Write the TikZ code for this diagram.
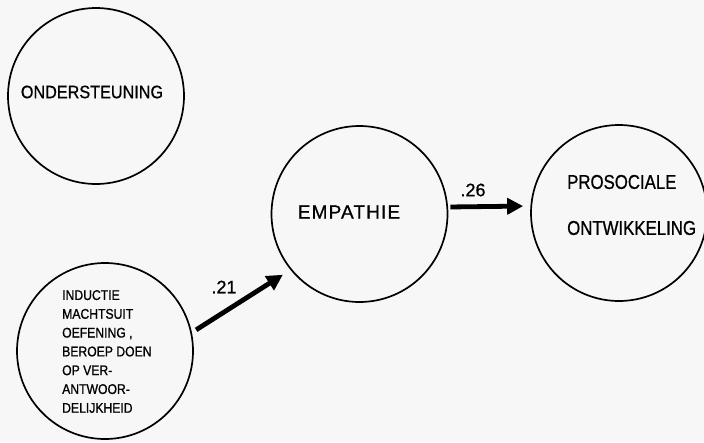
\documentclass[tikz,border=0pt]{standalone}
\usepackage{fontspec}
\setmainfont{Liberation Sans}[FakeBold=0.8]
\newfontfamily\condA[FakeStretch=0.9,FakeBold=0.8]{Liberation Sans}
\newfontfamily\condB[FakeStretch=0.84,FakeBold=0.8]{Liberation Sans}
\newfontfamily\condC[FakeStretch=0.87,FakeBold=1]{Liberation Sans}
\newfontfamily\spacedfont[LetterSpace=6,FakeBold=0.8]{Liberation Sans}
\usetikzlibrary{arrows.meta}
\begin{document}
\begin{tikzpicture}[x=1pt,y=-1pt,
  circ/.style={circle,draw,line width=1.7pt,minimum size=176pt,inner sep=0pt},
  arr/.style={line width=4.8pt,-{Triangle[length=16pt,width=16pt]}},
  txt/.style={inner sep=0pt},
  lab/.style={inner sep=0pt,font=\fontsize{18}{18}\selectfont},
]
\fill[black!3] (0,0) rectangle (704,442);
\useasboundingbox (0,0) rectangle (704,442);
% circles
\node[circ] (ond) at (96,96) {};
\node[circ] (ind) at (105,351) {};
\node[circ] (emp) at (359.5,214) {};
\node[circ] (pro) at (619,213) {};
% texts
\node[txt,font=\condA\fontsize{18}{18}\selectfont] (ondt) at (92,92) {ONDERSTEUNING};
\node[txt,anchor=west,align=left,font=\condC\fontsize{14}{18.8}\selectfont] (indt) at (62,351.5)
  {INDUCTIE\\MACHTSUIT\\OEFENING ,\\BEROEP DOEN\\OP VER-\\ANTWOOR-\\DELIJKHEID};
\node[txt,font=\spacedfont\fontsize{19}{19}\selectfont] (empt) at (349,212) {EMPATHIE};
\node[txt,anchor=west,font=\condB\fontsize{20}{20}\selectfont] (prot1) at (567,182) {PROSOCIALE};
\node[txt,anchor=west,font=\condB\fontsize{20}{20}\selectfont] (prot2) at (567,228) {ONTWIKKELING};
% arrows
\draw[arr,shorten <=5pt,shorten >=9pt] (ind.12) -- (emp.219);
\draw[arr,shorten <=2pt,shorten >=7pt] ([yshift=7pt]emp.east) -- ([yshift=7pt]pro.west);
% labels
\node[lab] (l21) at (224,287) {.21};
\node[lab] (l26) at (473,190) {.26};
\end{tikzpicture}
\end{document}
